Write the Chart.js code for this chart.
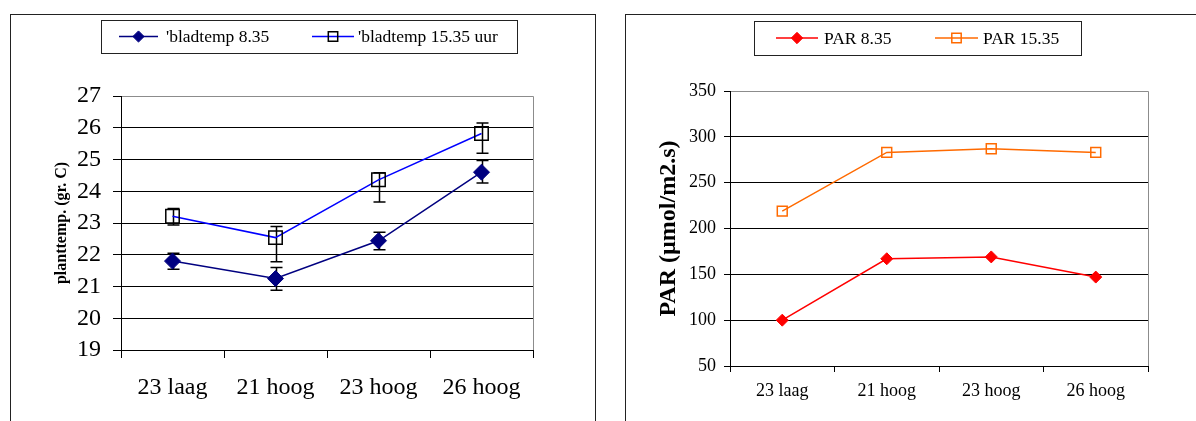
<!DOCTYPE html>
<html lang="nl">
<head>
<meta charset="UTF-8">
<title>bladtemp en PAR</title>
<script src="https://cdn.jsdelivr.net/npm/chart.js@4.4.0/dist/chart.umd.min.js"></script>
<style>
  body { margin:0; background:#fff; width:1196px; height:421px; overflow:hidden; position:relative; }
  .frame { position:absolute; border:1px solid #222; }
  canvas { position:absolute; top:0; }
</style>
</head>
<body>
<div class="frame" style="left:10px; top:14px; width:584px; height:430px;"></div>
<div class="frame" style="left:625px; top:14px; width:600px; height:430px;"></div>
<canvas id="c_temp" width="600" height="421" style="left:0"></canvas>
<canvas id="c_par" width="596" height="421" style="left:600px"></canvas>
<script>
// categorieen (x-as)
var categories = ['23 laag', '21 hoog', '23 hoog', '26 hoog'];

// bladtemperatuur om 8.35 + foutbalken
var bladtemp835 = [21.80, 21.25, 22.44, 24.60];
var bladtemp835Plus = [0.25, 0.35, 0.27, 0.37];
var bladtemp835Min = [0.26, 0.37, 0.28, 0.34];

// bladtemperatuur om 15.35 + foutbalken
var bladtemp1535 = [23.21, 22.54, 24.36, 25.82];
var bladtemp1535Plus = [0.25, 0.35, 0.22, 0.33];
var bladtemp1535Min = [0.27, 0.76, 0.70, 0.62];

// PAR
var par835 = [100, 167, 169, 147];
var par1535 = [219, 283, 287, 283];

// as-bereik: min, max, stap
var tempAxis = [19, 27, 1];
var parAxis = [50, 350, 50];

var serif = "'Liberation Serif', 'Times New Roman', serif";

// foutbalken tekenen (voor de punten, zodat de ruit ze afdekt)
var errorBars = {
    id: 'errorBars',
    beforeDatasetsDraw: function(chart) {
        var ctx = chart.ctx, xs = chart.scales.x, ys = chart.scales.y;
        ctx.save();
        ctx.strokeStyle = '#000';
        ctx.lineWidth = 1.5;
        chart.data.datasets.forEach(function(ds) {
            if (!ds.errPlus) return;
            ds.data.forEach(function(v, i) {
                var x = Math.round(xs.getPixelForValue(i)) + 0.5;
                var yT = ys.getPixelForValue(v + ds.errPlus[i]);
                var yB = ys.getPixelForValue(v - ds.errMinus[i]);
                ctx.beginPath();
                ctx.moveTo(x, yT); ctx.lineTo(x, yB);
                ctx.moveTo(x - 6, yT); ctx.lineTo(x + 6, yT);
                ctx.moveTo(x - 6, yB); ctx.lineTo(x + 6, yB);
                ctx.stroke();
            });
        });
        ctx.restore();
    }
};

// grijze rand boven en rechts van het plotvlak
var plotFrame = {
    id: 'plotFrame',
    beforeDatasetsDraw: function(chart) {
        var a = chart.chartArea, ctx = chart.ctx;
        var t = Math.round(a.top) + 0.5, r = Math.round(a.right) + 0.5;
        ctx.save();
        ctx.strokeStyle = '#8c8c8c';
        ctx.lineWidth = 1;
        ctx.beginPath();
        ctx.moveTo(a.left + 1, t); ctx.lineTo(r, t); ctx.lineTo(r, a.bottom);
        ctx.stroke();
        ctx.restore();
    }
};

// legenda in een kader, met lijnstukje + marker
var boxLegend = {
    id: 'boxLegend',
    afterDraw: function(chart, args, o) {
        var ctx = chart.ctx;
        var cy = o.y + o.h / 2;
        ctx.save();
        ctx.strokeStyle = '#222';
        ctx.lineWidth = 1;
        ctx.strokeRect(o.x + 0.5, o.y + 0.5, o.w, o.h);
        ctx.font = o.font;
        ctx.textBaseline = 'middle';
        chart.data.datasets.forEach(function(ds, i) {
            var it = o.items[i];
            ctx.strokeStyle = ds.borderColor;
            ctx.lineWidth = ds.borderWidth;
            ctx.beginPath(); ctx.moveTo(it[0], cy); ctx.lineTo(it[1], cy); ctx.stroke();
            ctx.fillStyle = ds.pointBackgroundColor;
            ctx.strokeStyle = ds.pointBorderColor;
            ctx.lineWidth = ds.pointBorderWidth;
            Chart.helpers.drawPoint(ctx, {pointStyle: ds.pointStyle, radius: ds.pointRadius * o.scale, borderWidth: ds.pointBorderWidth, rotation: 0}, (it[0] + it[1]) / 2, cy);
            ctx.fillStyle = '#000';
            ctx.fillText(ds.label, it[2], cy + 1);
        });
        ctx.restore();
    }
};

var f_axes = function(p) {
    return {
        x: {
            offset: true,
            grid: { offset: true, drawOnChartArea: false, color: '#000', tickLength: p.tick },
            border: { color: '#000' },
            ticks: { color: '#000', font: { family: serif, size: p.xFont }, padding: p.xPad, maxRotation: 0, autoSkip: false },
            afterFit: function(s) { s.height = p.xHeight; }
        },
        y: {
            min: p.axis[0], max: p.axis[1],
            grid: { color: '#000', tickLength: p.tick },
            border: { color: '#000' },
            ticks: { stepSize: p.axis[2], color: '#000', font: { family: serif, size: p.yFont }, padding: p.yPad, autoSkip: false },
            title: { display: true, text: p.title, color: '#000', font: { family: serif, size: p.titleFont, weight: 'bold' }, padding: { top: p.titlePad, bottom: 0 } },
            afterFit: function(s) { s.width = p.yWidth; }
        }
    };
};

new Chart(document.getElementById('c_temp'), {
    type: 'line',
    data: {
        labels: categories,
        datasets: [{
            label: "'bladtemp 8.35",
            data: bladtemp835, errPlus: bladtemp835Plus, errMinus: bladtemp835Min,
            borderColor: '#000080', borderWidth: 1.5,
            pointStyle: 'rectRot', pointRadius: 8,
            pointBackgroundColor: '#000080', pointBorderColor: '#000080', pointBorderWidth: 1
        }, {
            label: "'bladtemp 15.35 uur",
            data: bladtemp1535, errPlus: bladtemp1535Plus, errMinus: bladtemp1535Min,
            borderColor: '#0000ff', borderWidth: 1.5,
            pointStyle: 'rect', pointRadius: 9.5,
            pointBackgroundColor: 'rgba(0,0,0,0)', pointBorderColor: '#000', pointBorderWidth: 1.5
        }]
    },
    options: {
        responsive: false, animation: false,
        layout: { padding: { left: 40, right: 67, top: 96, bottom: 21 } },
        plugins: {
            legend: { display: false }, tooltip: { enabled: false },
            boxLegend: { x: 101, y: 20, w: 416, h: 33, font: '17.5px ' + serif, scale: 0.7,
                         items: [[119, 158, 166], [312, 354, 358]] }
        },
        scales: f_axes({ axis: tempAxis, tick: 8, xFont: 24, xPad: 15, xHeight: 50,
                         yFont: 24, yPad: 12, yWidth: 81,
                         title: 'planttemp. (gr. C)', titleFont: 16, titlePad: 12 })
    },
    plugins: [plotFrame, errorBars, boxLegend]
});

new Chart(document.getElementById('c_par'), {
    type: 'line',
    data: {
        labels: categories,
        datasets: [{
            label: 'PAR 8.35',
            data: par835,
            borderColor: '#ff0000', borderWidth: 1.5,
            pointStyle: 'rectRot', pointRadius: 6,
            pointBackgroundColor: '#ff0000', pointBorderColor: '#ff0000', pointBorderWidth: 1
        }, {
            label: 'PAR 15.35',
            data: par1535,
            borderColor: '#ff6a00', borderWidth: 1.5,
            pointStyle: 'rect', pointRadius: 7,
            pointBackgroundColor: 'rgba(0,0,0,0)', pointBorderColor: '#ff6a00', pointBorderWidth: 1.5
        }]
    },
    options: {
        responsive: false, animation: false,
        layout: { padding: { left: 40, right: 48, top: 91, bottom: 10 } },
        plugins: {
            legend: { display: false }, tooltip: { enabled: false },
            boxLegend: { x: 154, y: 21, w: 327, h: 34, font: '17.5px ' + serif, scale: 0.95,
                         items: [[176, 218, 224], [335, 378, 383]] }
        },
        scales: f_axes({ axis: parAxis, tick: 6, xFont: 18, xPad: 8, xHeight: 45,
                         yFont: 18, yPad: 8, yWidth: 90,
                         title: 'PAR (µmol/m2.s)', titleFont: 24, titlePad: 14 })
    },
    plugins: [plotFrame, boxLegend]
});
</script>
</body>
</html>
